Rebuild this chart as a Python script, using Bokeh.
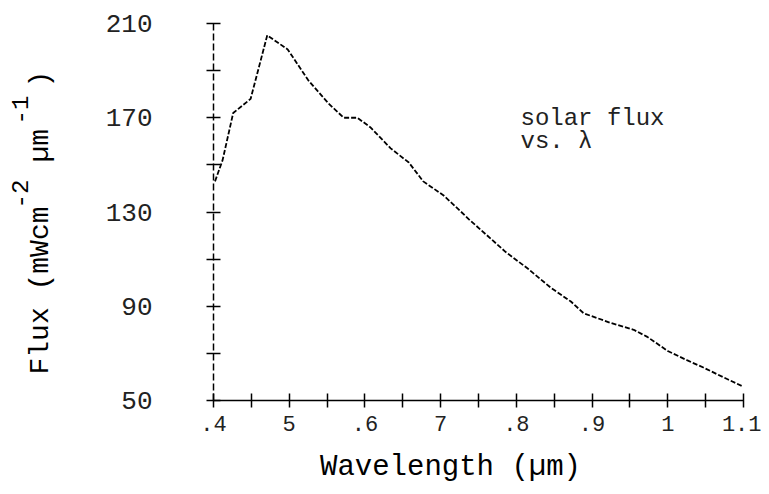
import math
from bokeh.plotting import figure
from bokeh.models import Range1d, FixedTicker, Label
from bokeh.embed import file_html
from bokeh.resources import INLINE

# ---- data ----
wavelength = [0.402, 0.412, 0.426, 0.449, 0.471, 0.498, 0.525, 0.552, 0.572,
              0.590, 0.607, 0.634, 0.658, 0.677, 0.704, 0.724, 0.737, 0.786,
              0.815, 0.845, 0.872, 0.889, 0.924, 0.955, 0.973, 1.000, 1.026,
              1.047, 1.079, 1.099]
flux = [143, 152, 172, 178, 205, 199, 186, 176, 170,
        170, 166, 157, 151, 143, 137, 131, 127, 113,
        106, 98, 92, 87, 83, 80, 77, 71, 67,
        64, 59, 56]

x_ticks = [0.4, 0.5, 0.6, 0.7, 0.8, 0.9, 1.0, 1.1]
x_tick_labels = [".4", "5", ".6", "7", ".8", ".9", "1", "1.1"]
x_minor_ticks = [0.45, 0.55, 0.65, 0.75, 0.85, 0.95, 1.05]
y_ticks = [50, 90, 130, 170, 210]
y_minor_ticks = [70, 110, 150, 190]

x_title = "Wavelength (µm)"
y_title_parts = ["Flux (mWcm", "-2", "µm", "-1", ")"]
note_lines = ["solar flux", "vs. λ"]

# ---- layout (page pixel positions of the axes box) ----
W, H = 761, 486
OFF = 0                      # canvas origin in page pixels
X0, X1 = 0.4, 1.1
Y0, Y1 = 50, 210
FL, FR, FT, FB = 213, 743, 23, 400
SX = (FR - FL) / (X1 - X0)
SY = (FB - FT) / (Y1 - Y0)


def px2x(px):
    return X0 + (px - FL) / SX


def py2y(py):
    return Y0 + (FB - py) / SY


p = figure(width=W, height=H, output_backend="svg", toolbar_location=None,
           x_range=Range1d(px2x(OFF), px2x(OFF + W)),
           y_range=Range1d(py2y(OFF + H), py2y(OFF)),
           min_border=0)
p.outline_line_color = None
p.grid.visible = False
p.background_fill_color = "white"
p.border_fill_color = "white"

p.line(wavelength, flux, line_color="black", line_width=1.8, line_dash="5 2")

FONT = "Liberation Mono"

xa = p.xaxis[0]
xa.fixed_location = Y0
xa.bounds = (X0, X1)
xa.ticker = FixedTicker(ticks=x_ticks, minor_ticks=x_minor_ticks)
xa.major_label_overrides = dict(zip(x_ticks, x_tick_labels))
ya = p.yaxis[0]
ya.fixed_location = X0
ya.bounds = (Y0, Y1)
ya.ticker = FixedTicker(ticks=y_ticks, minor_ticks=y_minor_ticks)

for ax in (xa, ya):
    ax.axis_line_color = "black"
    ax.axis_line_width = 1.5
    ax.major_tick_in = 7
    ax.major_tick_out = 7
    ax.minor_tick_in = 7
    ax.minor_tick_out = 7
    ax.major_tick_line_color = "black"
    ax.minor_tick_line_color = "black"
    ax.major_tick_line_width = 1.5
    ax.minor_tick_line_width = 1.5
    ax.major_label_text_font = FONT
    ax.major_label_text_color = "#222222"

xa.major_label_text_font_size = "22px"
xa.major_label_standoff = 8
ya.major_label_text_font_size = "26px"
ya.major_label_standoff = 54
ya.axis_line_dash = "7 3"

# x-axis title
p.add_layout(Label(x=px2x(450), y=py2y(467), text=x_title, text_align="center",
                   text_baseline="middle", text_font=FONT, text_font_size="29px",
                   text_color="black"))

# y-axis title with superscripts (rotated)
y_pos = [(40, 374, "28px"), (19, 208, "24px"), (40, 162, "28px"),
         (19, 124, "24px"), (40, 87, "28px")]
for txt, (bx, by, fs) in zip(y_title_parts, y_pos):
    p.add_layout(Label(x=px2x(bx), y=py2y(by), text=txt, angle=math.pi / 2,
                       text_align="left", text_baseline="alphabetic",
                       text_font=FONT, text_font_size=fs, text_color="black"))

# annotation
for txt, by in zip(note_lines, [118, 141]):
    p.add_layout(Label(x=px2x(520), y=py2y(by), text=txt, text_align="left",
                       text_baseline="alphabetic", text_font=FONT,
                       text_font_size="24px", text_color="#222222"))

open("out.html", "w").write(file_html(p, INLINE))
